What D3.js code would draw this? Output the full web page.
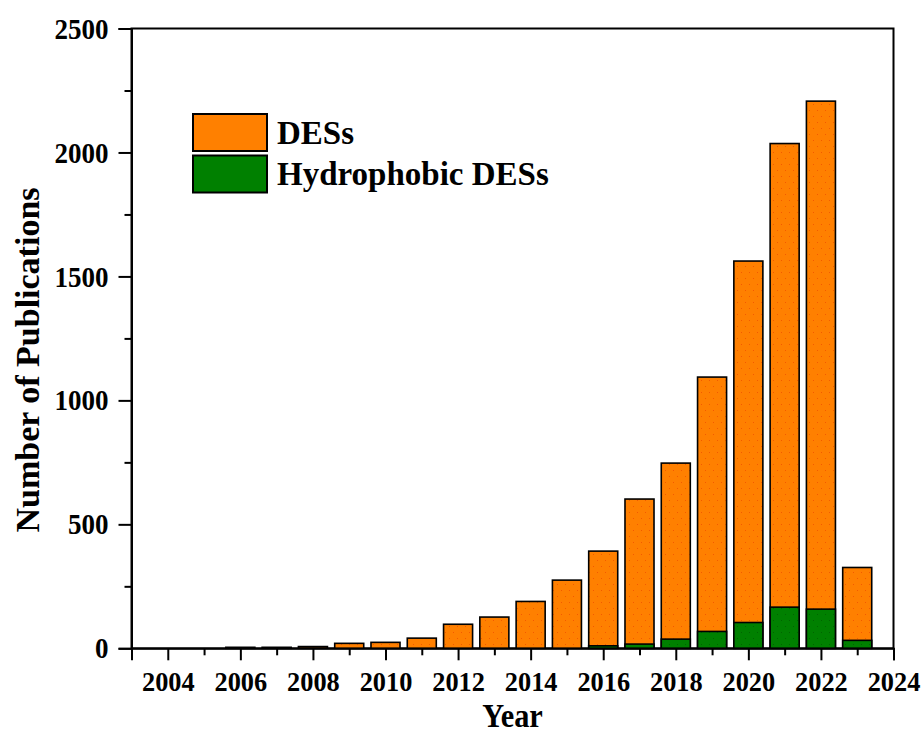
<!DOCTYPE html>
<html>
<head>
<meta charset="utf-8">
<script src="https://cdn.jsdelivr.net/npm/d3@7"></script>
<style>
  html, body { margin: 0; padding: 0; background: #ffffff; }
  svg { display: block; }
  text { font-family: "Liberation Serif", "Times New Roman", serif; font-weight: bold; fill: #000; }
</style>
</head>
<body>
<svg id="chart" width="924" height="736"></svg>
<script>
// Publications per year
const years = [2004, 2005, 2006, 2007, 2008, 2009, 2010, 2011, 2012, 2013,
               2014, 2015, 2016, 2017, 2018, 2019, 2020, 2021, 2022, 2023];
const desCounts = [0, 0, 4, 4, 7, 20, 24, 41, 97, 126,
                   189, 275, 392, 602, 747, 1094, 1562, 2036, 2207, 326];
const hydrophobicCounts = [0, 0, 0, 0, 0, 0, 0, 0, 0, 0,
                           0, 0, 10, 17, 37, 68, 104, 166, 158, 32];
const seriesNames = ["DESs", "Hydrophobic DESs"];
const seriesColors = ["#ff8000", "#008000"];
const seriesDots = ["#f25a00", "#006400"];
const xTickValues = [2004, 2006, 2008, 2010, 2012, 2014, 2016, 2018, 2020, 2022, 2024];
const yTickValues = [0, 500, 1000, 1500, 2000, 2500];

const svg = d3.select("#chart");
const plot = { left: 131.5, right: 893.5, top: 28.5, bottom: 648.3 };

const x = d3.scaleLinear().domain([2003, 2024]).range([plot.left, plot.right]);
const y = d3.scaleLinear().domain([0, 2500]).range([plot.bottom, plot.top]);
const barWidth = (x(2004) - x(2003)) * 0.8;

// Sparse dotted fills for the two series
const defs = svg.append("defs");
seriesColors.forEach((c, i) => {
  const p = defs.append("pattern")
    .attr("id", "fill" + i)
    .attr("patternUnits", "userSpaceOnUse")
    .attr("width", 8).attr("height", 12);
  p.append("rect").attr("width", 8).attr("height", 12).attr("fill", c);
  p.append("rect").attr("x", 1).attr("y", 2).attr("width", 1).attr("height", 1).attr("fill", seriesDots[i]);
  p.append("rect").attr("x", 5).attr("y", 8).attr("width", 1).attr("height", 1).attr("fill", seriesDots[i]);
});

// Frame (top and right edges)
svg.append("rect")
  .attr("x", plot.left).attr("y", plot.top)
  .attr("width", plot.right - plot.left).attr("height", plot.bottom - plot.top)
  .attr("fill", "none").attr("stroke", "#000").attr("stroke-width", 2);

// Bars: total DES publications, with the hydrophobic subset drawn over them
const data = years.map((yr, i) => ({ year: yr, des: desCounts[i], hyd: hydrophobicCounts[i] }));

svg.append("g").selectAll("rect")
  .data(data.filter(d => d.des > 0))
  .join("rect")
  .attr("x", d => x(d.year) - barWidth / 2)
  .attr("width", barWidth)
  .attr("y", d => y(d.des))
  .attr("height", d => y(0) - y(d.des))
  .attr("fill", "url(#fill0)")
  .attr("stroke", "#000").attr("stroke-width", 1.6);

svg.append("g").selectAll("rect")
  .data(data.filter(d => d.hyd > 0))
  .join("rect")
  .attr("x", d => x(d.year) - barWidth / 2)
  .attr("width", barWidth)
  .attr("y", d => y(d.hyd))
  .attr("height", d => y(0) - y(d.hyd))
  .attr("fill", "url(#fill1)")
  .attr("stroke", "#000").attr("stroke-width", 1.6);

// Tall, slightly condensed labels
function condense(sel, factor) {
  sel.each(function () {
    const w = this.getComputedTextLength();
    d3.select(this).attr("textLength", w * factor).attr("lengthAdjust", "spacingAndGlyphs");
  });
}

// X axis: major ticks every two years, minor ticks on odd years
const xMinor = d3.range(2003, 2025, 2);
const xAxisG = svg.append("g").attr("transform", `translate(0,${plot.bottom})`);
xAxisG.call(d3.axisBottom(x).tickValues(xMinor).tickSize(7).tickFormat(""))
  .call(g => g.select(".domain").remove())
  .call(g => g.selectAll("line").attr("stroke-width", 2));
xAxisG.append("g")
  .call(d3.axisBottom(x).tickValues(xTickValues).tickSize(12).tickPadding(11).tickFormat(d3.format("d")))
  .call(g => g.select(".domain").attr("stroke-width", 2))
  .call(g => g.selectAll("line").attr("stroke-width", 2))
  .call(g => g.selectAll("text").attr("font-size", 28).attr("font-family", null).attr("fill", "#000").call(condense, 0.94));

// Y axis: major ticks every 500, minor ticks between
const yMinor = d3.range(250, 2500, 500);
const yAxisG = svg.append("g").attr("transform", `translate(${plot.left},0)`);
yAxisG.call(d3.axisLeft(y).tickValues(yMinor).tickSize(7).tickFormat(""))
  .call(g => g.select(".domain").remove())
  .call(g => g.selectAll("line").attr("stroke-width", 2));
yAxisG.append("g")
  .call(d3.axisLeft(y).tickValues(yTickValues).tickSize(13).tickPadding(10).tickFormat(d3.format("d")))
  .call(g => g.select(".domain").attr("stroke-width", 2))
  .call(g => g.selectAll("line").attr("stroke-width", 2))
  .call(g => g.selectAll("text").attr("font-size", 30).attr("font-family", null).attr("fill", "#000").call(condense, 0.9));

// Axis titles
svg.append("text")
  .attr("x", (plot.left + plot.right) / 2).attr("y", 727)
  .attr("text-anchor", "middle").attr("font-size", 33)
  .text("Year")
  .call(condense, 0.92);

svg.append("text")
  .attr("transform", "translate(39,360) rotate(-90)")
  .attr("text-anchor", "middle").attr("font-size", 34)
  .text("Number of Publications");

// Legend
const legend = svg.append("g").attr("transform", "translate(193,114)");
seriesNames.forEach((name, i) => {
  const row = legend.append("g").attr("transform", `translate(0,${i * 41.5})`);
  row.append("rect")
    .attr("width", 74).attr("height", 37)
    .attr("fill", seriesColors[i])
    .attr("stroke", "#000").attr("stroke-width", 2);
  row.append("text")
    .attr("x", 84).attr("y", 29.5)
    .attr("font-size", 33)
    .text(name);
});
</script>
</body>
</html>
